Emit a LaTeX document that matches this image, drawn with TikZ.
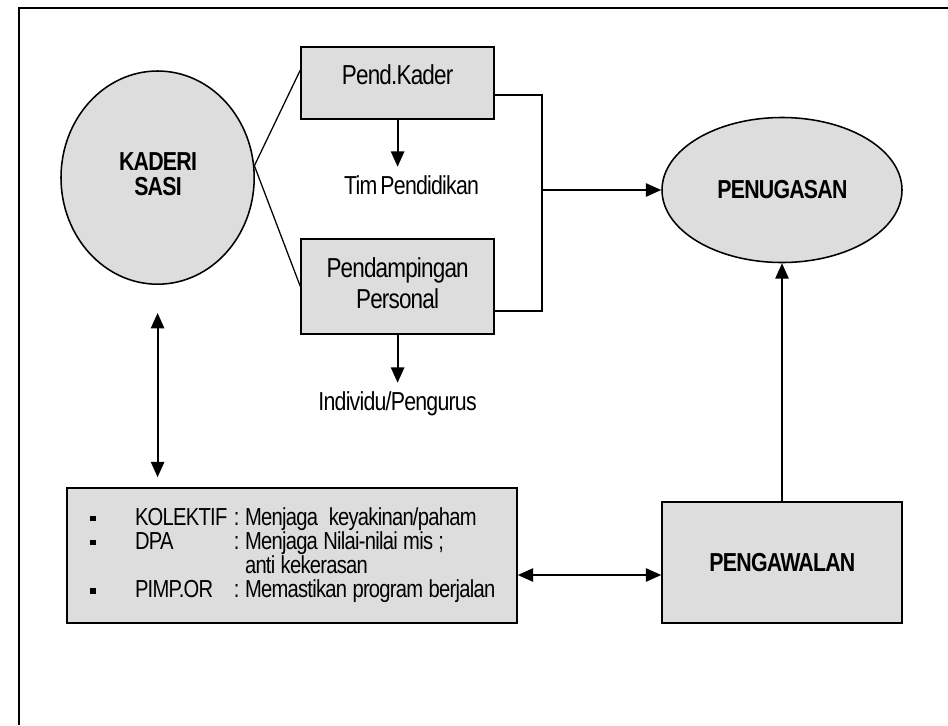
\documentclass[tikz,border=0pt]{standalone}
\usepackage{fontspec}
\setmainfont{Liberation Sans}[FakeStretch=0.82, LetterSpace=-3, WordSpace=0.6]
\usepackage{tikz}
\usetikzlibrary{positioning, shapes, arrows.meta}

\definecolor{boxgrey}{HTML}{DDDDDD}

\tikzset{
    greybox/.style={draw, line width=1.1pt, fill=boxgrey, inner sep=0pt},
    greyoval/.style={ellipse, draw, line width=1.1pt, fill=boxgrey, inner sep=0pt},
    arr/.style={-{Triangle[length=11pt,width=9.5pt]}, line width=1.3pt},
    dblarr/.style={{Triangle[length=11pt,width=9.5pt]}-{Triangle[length=11pt,width=9.5pt]}, line width=1.3pt},
    lbl/.style={inner ysep=6pt, font=\fontsize{18.5}{20}\selectfont},
    boxfont/.style={font=\fontsize{19.5}{22}\selectfont},
}

\begin{document}
\begin{tikzpicture}[font=\fontsize{18.5}{16.4}\selectfont]

    \useasboundingbox (0,0) rectangle (23.7,-18.125);
    \draw[line width=1.5pt] (0.475,-18.125) -- (0.475,-0.2) -- (23.7,-0.2);

    \node[greyoval, minimum width=4.83cm, minimum height=5.33cm] (kaderisasi) at (3.94,-4.44) {
    \begin{tabular}{c}
    \textbf{KADERI}\\
    \textbf{SASI}
    \end{tabular}
    };

    % ----------

    \node[greybox, boxfont, minimum width=4.825cm, minimum height=1.8cm, text depth=12pt] (pendkader) at (9.94,-2.075) {Pend.Kader};
    \node[lbl, below=1.175cm of pendkader, xshift=0.35cm] (timpend) {Tim Pendidikan};

    \node[greybox, boxfont, minimum width=4.825cm, minimum height=2.375cm] (pendampingan) at (9.94,-7.1625) {
    \begin{tabular}{c}
    Pendampingan\\
    Personal
    \end{tabular}
    };
    \node[lbl, below=1.2cm of pendampingan] (individu) {Individu/Pengurus};

    % ----------

    \node[greyoval, minimum width=6cm, minimum height=3.625cm] (penugasan) at (19.55,-4.75) {\textbf{PENUGASAN}};
    \node[greybox, minimum width=6cm, minimum height=3.025cm] (pengawalan) at (19.55,-14.0625) {\textbf{PENGAWALAN}};

    % ----------

    \node[greybox, minimum width=11.25cm, minimum height=3.375cm, inner xsep=0.575cm, text width=10.1cm, align=left] (kolektif) at (7.3,-13.8875) {
    \fontsize{17.5}{15}\selectfont\frenchspacing\spaceskip=0.22em
    \begin{tabular}{@{}p{1.125cm}@{}p{2.475cm}@{}l@{}}
    \rule[0.3ex]{4pt}{4pt} & KOLEKTIF & : Menjaga\ \ keyakinan/paham\\
    \rule[0.3ex]{4pt}{4pt} & DPA & : Menjaga Nilai-nilai mis ;\\
     & & \phantom{:}\ anti kekerasan\\
    \rule[0.3ex]{4pt}{4pt} & PIMP.OR & : Memastikan program berjalan
    \end{tabular}
    };

    % -------

    \coordinate (fork) at (kaderisasi.7);
    \draw[line width=0.9pt] (fork) -- ([yshift=0.325cm]pendkader.west);
    \draw[line width=0.9pt] (fork) -- (pendampingan.west);

    \draw[arr] (pendkader.south) -- (pendkader.south |- timpend.north);
    \draw[arr] (pendampingan.south) -- (individu.north);

    \coordinate (junction) at (13.55,-4.75);
    \draw[line width=1pt] ([yshift=-0.3cm]pendkader.east) -| (junction) |- ([yshift=-0.6125cm]pendampingan.east);
    \draw[arr] (junction) -- (penugasan.west);

    \draw[arr] (pengawalan.north) -- (penugasan.south);
    \coordinate (awalin) at ([yshift=-0.3125cm]pengawalan.west);
    \draw[dblarr] (kolektif.east |- awalin) -- (awalin);
    \draw[dblarr, shorten <=0.7cm, shorten >=0.25cm] (kaderisasi.south) -- (kaderisasi.south |- kolektif.north);

\end{tikzpicture}
\end{document}
